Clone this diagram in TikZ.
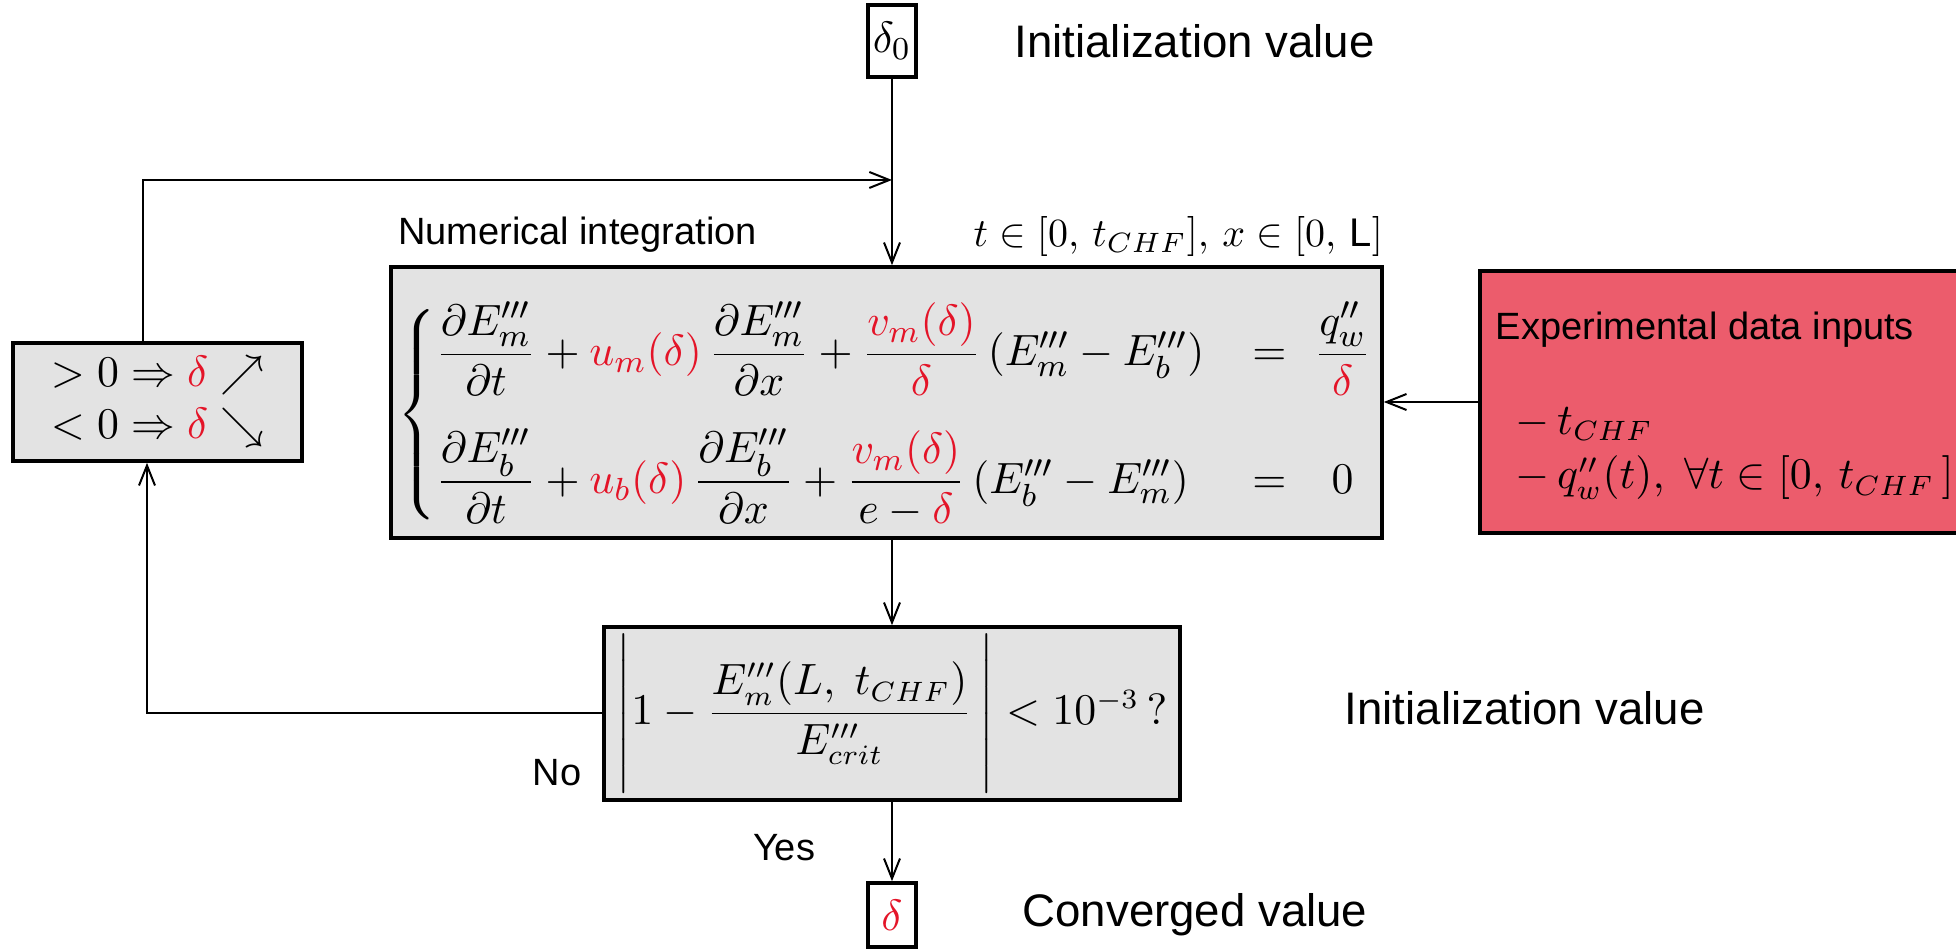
\documentclass[tikz,border=0pt]{standalone}
\usepackage{amsmath}
\usepackage{fontspec}
\setsansfont{Liberation Sans}
\usetikzlibrary{positioning,arrows.meta}

\definecolor{deltared}{RGB}{228,20,40}
\definecolor{boxgray}{RGB}{227,227,227}
\definecolor{inputred}{RGB}{236,92,108}
\newcommand{\dred}[1]{\textcolor{deltared}{#1}}
\newcommand{\Ep}[1]{E_{#1}^{\prime\prime\prime}}

\begin{document}
\begin{tikzpicture}[
    x=0.25pt, y=-0.25pt,
    >={Straight Barb[length=5pt,width=4pt]},
    box/.style={draw, line width=0.9pt, fill=boxgray, inner sep=0pt, align=center},
    valbox/.style={draw, line width=0.9pt, fill=white, inner sep=0pt, minimum width=12pt, minimum height=18pt, font=\fontsize{11}{13}\selectfont},
    caption/.style={font=\sffamily\fontsize{11.4}{13}\selectfont, inner sep=0pt},
    small/.style={font=\sffamily\fontsize{9.5}{11}\selectfont, inner sep=0pt},
    mathtxt/.style={font=\fontsize{10.5}{13}\selectfont, inner sep=0pt},
    arrow/.style={->, line width=0.5pt},
]
\useasboundingbox (0,0) rectangle (1956,949);

% boxes
\node[valbox] (init) at (892,41) {$\delta_0$};
\node[caption, right=24pt of init] (initlabel) {Initialization value};

\node[box, minimum width=247.75pt, minimum height=67.75pt, font=\fontsize{11}{13}\selectfont] (solver) at (886.5,402.5) {%
\raisebox{-3pt}[\height][\depth]{$\left\{\begin{array}{@{}l@{\hspace{12pt}}c@{\hspace{7pt}}c@{}}
\dfrac{\partial \Ep{m}}{\partial t} + \dred{u_m(\delta)}\,\dfrac{\partial \Ep{m}}{\partial x} + \dfrac{\dred{v_m(\delta)}}{\dred{\delta}}\left(\Ep{m} - \Ep{b}\right) & = & \dfrac{q_w''}{\dred{\delta}} \\[12pt]
\dfrac{\partial \Ep{b}}{\partial t} + \dred{u_b(\delta)}\,\dfrac{\partial \Ep{b}}{\partial x} + \dfrac{\dred{v_m(\delta)}}{e-\dred{\delta}}\left(\Ep{b} - \Ep{m}\right) & = & 0
\end{array}\right.$}};
\node[small, anchor=south west] (numint) at ([xshift=2pt,yshift=3pt]solver.north west) {Numerical integration};
\node[mathtxt, font=\fontsize{10}{12}\selectfont, anchor=south east] (domain) at ([yshift=2pt]solver.north east) {$t\in[0,\,t_{CHF}],\,x\in[0,\,\textsf{L}]$};

\node[draw, line width=0.9pt, fill=inputred, minimum width=130pt, minimum height=65.5pt, anchor=west] (inputs) at (1478,402) {};
\node[small, anchor=west] (inhead) at (1495,330) {Experimental data inputs};
\node[mathtxt, anchor=west] (intchf) at (1515,424) {$-\,t_{CHF}$};
\node[mathtxt, anchor=west] (influx) at (1515,478) {$-\,q_w''(t),\;\forall t\in[0,\,t_{CHF}\,]$};

\node[box, minimum width=72.25pt, minimum height=29.5pt, font=\fontsize{11}{13}\selectfont] (update) at (157.5,402) {$>0 \Rightarrow \dred{\delta} \nearrow$\\$<0 \Rightarrow \dred{\delta} \searrow$};

\node[box, minimum width=144pt, minimum height=43.25pt, font=\fontsize{10.5}{13}\selectfont] (check) at (892,713.5) {%
$\left|\rule[-17pt]{0pt}{35pt}1 - \dfrac{\Ep{m}(L,\; t_{CHF})}{\Ep{crit}}\,\right| < 10^{-3}\,?$};
\node[caption, anchor=west] (checklabel) at (1344,708) {Initialization value};

\node[valbox, minimum height=16pt] (conv) at (892,915) {$\dred{\delta}$};
\node[caption, right=26pt of conv] (convlabel) {Converged value};

\node[small] (nolabel) at (557,773) {No};
\node[small] (yeslabel) at (784,848) {Yes};

% connectors
\coordinate (fbtop) at (143,180);
\coordinate (fbbot) at (147,713);
\draw[arrow] (init.south) -- (init.south |- solver.north);
\draw[arrow] (update.north -| fbtop) |- (fbtop -| init);
\draw[arrow] (inputs.west) -- (inputs.west -| solver.east);
\draw[arrow] (check.north |- solver.south) -- (check.north);
\draw[arrow] (check.west) -| (update.south -| fbbot);
\draw[arrow] (check.south) -- (conv.north);
\end{tikzpicture}
\end{document}
